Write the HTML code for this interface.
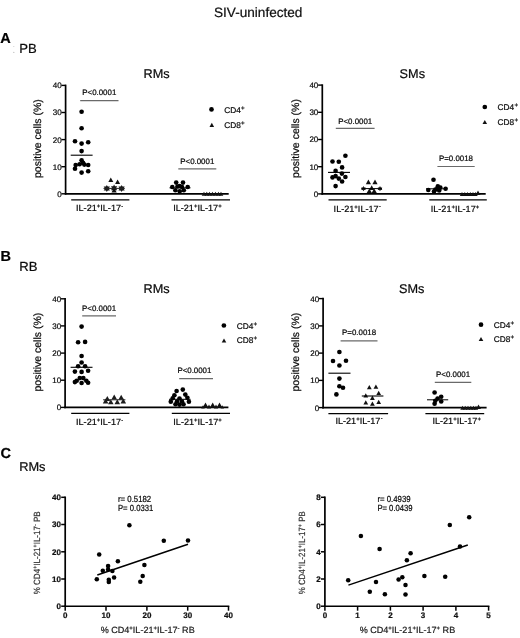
<!DOCTYPE html><html><head><meta charset="utf-8"><style>html,body{margin:0;padding:0;background:#fff}svg{display:block;will-change:transform;opacity:0.999}</style></head><body>
<svg width="520" height="638" viewBox="0 0 520 638" text-rendering="geometricPrecision">
<rect width="520" height="638" fill="#fff"/>
<text x="214.0" y="16.8" font-size="13.6" text-anchor="start" font-weight="normal" fill="#111" stroke="#111" stroke-width="0.22" font-family="Liberation Sans, sans-serif" >SIV-uninfected</text>
<text x="0.2" y="42.9" font-size="14.5" text-anchor="start" font-weight="bold" fill="#000" stroke="#000" stroke-width="0.22" font-family="Liberation Sans, sans-serif" >A</text>
<text x="19.2" y="53.1" font-size="13.1" text-anchor="start" font-weight="normal" fill="#0a0a0a" stroke="#0a0a0a" stroke-width="0.22" font-family="Liberation Sans, sans-serif" >PB</text>
<text x="0.4" y="260.7" font-size="14.5" text-anchor="start" font-weight="bold" fill="#000" stroke="#000" stroke-width="0.22" font-family="Liberation Sans, sans-serif" >B</text>
<text x="19.2" y="271.4" font-size="13.1" text-anchor="start" font-weight="normal" fill="#0a0a0a" stroke="#0a0a0a" stroke-width="0.22" font-family="Liberation Sans, sans-serif" >RB</text>
<text x="0.4" y="458.0" font-size="14.5" text-anchor="start" font-weight="bold" fill="#000" stroke="#000" stroke-width="0.22" font-family="Liberation Sans, sans-serif" >C</text>
<circle cx="13.8" cy="46.5" r="0.6" fill="#ccc"/><circle cx="13.8" cy="52.4" r="0.7" fill="#c4c4c4"/>
<line x1="65.6" y1="84.6" x2="65.6" y2="194.6" stroke="#000" stroke-width="1.7" />
<line x1="64.8" y1="193.8" x2="228.7" y2="193.8" stroke="#000" stroke-width="1.7" />
<line x1="61.4" y1="193.8" x2="65.6" y2="193.8" stroke="#000" stroke-width="1.4" />
<text x="61.6" y="196.7" font-size="8" text-anchor="end" font-weight="normal" fill="#0a0a0a" stroke="#0a0a0a" stroke-width="0.22" font-family="Liberation Sans, sans-serif" >0</text>
<line x1="61.4" y1="166.7" x2="65.6" y2="166.7" stroke="#000" stroke-width="1.4" />
<text x="61.6" y="169.6" font-size="8" text-anchor="end" font-weight="normal" fill="#0a0a0a" stroke="#0a0a0a" stroke-width="0.22" font-family="Liberation Sans, sans-serif" >10</text>
<line x1="61.4" y1="139.6" x2="65.6" y2="139.6" stroke="#000" stroke-width="1.4" />
<text x="61.6" y="142.5" font-size="8" text-anchor="end" font-weight="normal" fill="#0a0a0a" stroke="#0a0a0a" stroke-width="0.22" font-family="Liberation Sans, sans-serif" >20</text>
<line x1="61.4" y1="112.5" x2="65.6" y2="112.5" stroke="#000" stroke-width="1.4" />
<text x="61.6" y="115.4" font-size="8" text-anchor="end" font-weight="normal" fill="#0a0a0a" stroke="#0a0a0a" stroke-width="0.22" font-family="Liberation Sans, sans-serif" >30</text>
<line x1="61.4" y1="85.4" x2="65.6" y2="85.4" stroke="#000" stroke-width="1.4" />
<text x="61.6" y="88.3" font-size="8" text-anchor="end" font-weight="normal" fill="#0a0a0a" stroke="#0a0a0a" stroke-width="0.22" font-family="Liberation Sans, sans-serif" >40</text>
<text transform="translate(41.2,138.6) rotate(-90)" font-size="10.5" text-anchor="middle" fill="#0a0a0a" stroke="#0a0a0a" stroke-width="0.22" font-family="Liberation Sans, sans-serif">positive cells (%)</text>
<line x1="71.2" y1="199.9" x2="129.4" y2="199.9" stroke="#000" stroke-width="1.2" />
<line x1="171.5" y1="199.9" x2="230.0" y2="199.9" stroke="#000" stroke-width="1.2" />
<text x="99.6" y="211.4" font-size="9.1" text-anchor="middle" font-weight="normal" fill="#0a0a0a" stroke="#0a0a0a" stroke-width="0.22" font-family="Liberation Sans, sans-serif" >IL-21<tspan dy="-3" dx="0" font-size="6">+</tspan><tspan dy="3">&#8203;</tspan>IL-17<tspan dy="-3.3" dx="0.3" font-size="5.6">-</tspan><tspan dy="3.3">&#8203;</tspan></text>
<text x="197.4" y="211.4" font-size="9.1" text-anchor="middle" font-weight="normal" fill="#0a0a0a" stroke="#0a0a0a" stroke-width="0.22" font-family="Liberation Sans, sans-serif" >IL-21<tspan dy="-3" dx="0" font-size="6">+</tspan><tspan dy="3">&#8203;</tspan>IL-17<tspan dy="-3" dx="0" font-size="6">+</tspan><tspan dy="3">&#8203;</tspan></text>
<text x="143.6" y="77.7" font-size="12.7" text-anchor="start" font-weight="normal" fill="#0a0a0a" stroke="#0a0a0a" stroke-width="0.22" font-family="Liberation Sans, sans-serif" >RMs</text>
<line x1="80.2" y1="100.6" x2="118.5" y2="100.6" stroke="#6a6a6a" stroke-width="1.2" />
<text x="99.3" y="95.1" font-size="7.9" text-anchor="middle" font-weight="normal" fill="#0a0a0a" stroke="#0a0a0a" stroke-width="0.22" font-family="Liberation Sans, sans-serif" >P&lt;0.0001</text>
<line x1="178.3" y1="168.8" x2="216.3" y2="168.8" stroke="#6a6a6a" stroke-width="1.2" />
<text x="197.3" y="163.7" font-size="7.9" text-anchor="middle" font-weight="normal" fill="#0a0a0a" stroke="#0a0a0a" stroke-width="0.22" font-family="Liberation Sans, sans-serif" >P&lt;0.0001</text>
<circle cx="81.6" cy="111.8" r="2.32" fill="#000"/>
<circle cx="81.6" cy="128.2" r="2.32" fill="#000"/>
<circle cx="75.0" cy="141.2" r="2.32" fill="#000"/>
<circle cx="88.2" cy="142.3" r="2.32" fill="#000"/>
<circle cx="81.6" cy="143.6" r="2.32" fill="#000"/>
<circle cx="81.6" cy="151.1" r="2.32" fill="#000"/>
<circle cx="81.6" cy="160.3" r="2.32" fill="#000"/>
<circle cx="83.0" cy="162.7" r="2.32" fill="#000"/>
<circle cx="75.7" cy="165.0" r="2.32" fill="#000"/>
<circle cx="79.6" cy="164.3" r="2.32" fill="#000"/>
<circle cx="84.3" cy="164.6" r="2.32" fill="#000"/>
<circle cx="88.2" cy="165.0" r="2.32" fill="#000"/>
<circle cx="75.0" cy="168.7" r="2.32" fill="#000"/>
<circle cx="88.2" cy="171.3" r="2.32" fill="#000"/>
<circle cx="81.6" cy="172.6" r="2.32" fill="#000"/>
<line x1="70.7" y1="155.2" x2="92.6" y2="155.2" stroke="#000" stroke-width="1.1" />
<path d="M110.8 177.5 L113.3 182.0 L108.3 182.0 Z" fill="#111"/>
<path d="M117.6 179.5 L120.1 184.0 L115.1 184.0 Z" fill="#111"/>
<path d="M106.8 184.9 L109.9 190.5 L103.7 190.5 Z" fill="#1c1c1c"/>
<path d="M106.8 192.0 L109.9 186.6 L103.7 186.6 Z" fill="#1c1c1c"/>
<path d="M114.1 184.6 L117.2 190.2 L111.0 190.2 Z" fill="#1c1c1c"/>
<path d="M114.1 191.7 L117.2 186.3 L111.0 186.3 Z" fill="#1c1c1c"/>
<path d="M121.6 184.9 L124.7 190.5 L118.5 190.5 Z" fill="#1c1c1c"/>
<path d="M121.6 192.0 L124.7 186.6 L118.5 186.6 Z" fill="#1c1c1c"/>
<path d="M114.1 187.8 L116.7 192.5 L111.5 192.5 Z" fill="#111"/>
<line x1="103.5" y1="188.4" x2="124.8" y2="188.4" stroke="#222" stroke-width="1.0" />
<circle cx="176.2" cy="182.6" r="2.32" fill="#000"/>
<circle cx="183.0" cy="182.6" r="2.32" fill="#000"/>
<circle cx="172.3" cy="187.0" r="2.32" fill="#000"/>
<circle cx="187.7" cy="187.0" r="2.32" fill="#000"/>
<circle cx="179.7" cy="186.0" r="2.32" fill="#000"/>
<circle cx="175.4" cy="190.3" r="2.32" fill="#000"/>
<circle cx="183.8" cy="190.3" r="2.32" fill="#000"/>
<circle cx="179.7" cy="191.2" r="2.32" fill="#000"/>
<circle cx="177.5" cy="186.5" r="2.32" fill="#000"/>
<circle cx="182.0" cy="187.0" r="2.32" fill="#000"/>
<line x1="169.5" y1="187.8" x2="190.5" y2="187.8" stroke="#000" stroke-width="1.0" />
<path d="M204.0 191.7 L206.3 195.8 L201.7 195.8 Z" fill="#111"/>
<path d="M206.8 191.7 L209.1 195.8 L204.5 195.8 Z" fill="#111"/>
<path d="M209.5 191.7 L211.8 195.8 L207.2 195.8 Z" fill="#111"/>
<path d="M212.5 191.7 L214.8 195.8 L210.2 195.8 Z" fill="#111"/>
<path d="M215.5 191.7 L217.8 195.8 L213.2 195.8 Z" fill="#111"/>
<path d="M218.5 191.7 L220.8 195.8 L216.2 195.8 Z" fill="#111"/>
<path d="M221.0 191.7 L223.3 195.8 L218.7 195.8 Z" fill="#111"/>
<line x1="322.3" y1="84.3" x2="322.3" y2="194.7" stroke="#000" stroke-width="1.7" />
<line x1="321.5" y1="193.9" x2="485.7" y2="193.9" stroke="#000" stroke-width="1.7" />
<line x1="318.1" y1="193.9" x2="322.3" y2="193.9" stroke="#000" stroke-width="1.4" />
<text x="318.3" y="196.8" font-size="8" text-anchor="end" font-weight="normal" fill="#0a0a0a" stroke="#0a0a0a" stroke-width="0.22" font-family="Liberation Sans, sans-serif" >0</text>
<line x1="318.1" y1="166.7" x2="322.3" y2="166.7" stroke="#000" stroke-width="1.4" />
<text x="318.3" y="169.6" font-size="8" text-anchor="end" font-weight="normal" fill="#0a0a0a" stroke="#0a0a0a" stroke-width="0.22" font-family="Liberation Sans, sans-serif" >10</text>
<line x1="318.1" y1="139.5" x2="322.3" y2="139.5" stroke="#000" stroke-width="1.4" />
<text x="318.3" y="142.4" font-size="8" text-anchor="end" font-weight="normal" fill="#0a0a0a" stroke="#0a0a0a" stroke-width="0.22" font-family="Liberation Sans, sans-serif" >20</text>
<line x1="318.1" y1="112.3" x2="322.3" y2="112.3" stroke="#000" stroke-width="1.4" />
<text x="318.3" y="115.2" font-size="8" text-anchor="end" font-weight="normal" fill="#0a0a0a" stroke="#0a0a0a" stroke-width="0.22" font-family="Liberation Sans, sans-serif" >30</text>
<line x1="318.1" y1="85.1" x2="322.3" y2="85.1" stroke="#000" stroke-width="1.4" />
<text x="318.3" y="88.0" font-size="8" text-anchor="end" font-weight="normal" fill="#0a0a0a" stroke="#0a0a0a" stroke-width="0.22" font-family="Liberation Sans, sans-serif" >40</text>
<text transform="translate(298.5,138.5) rotate(-90)" font-size="10.5" text-anchor="middle" fill="#0a0a0a" stroke="#0a0a0a" stroke-width="0.22" font-family="Liberation Sans, sans-serif">positive cells (%)</text>
<line x1="328.5" y1="199.9" x2="386.7" y2="199.9" stroke="#000" stroke-width="1.2" />
<line x1="429.3" y1="199.9" x2="486.8" y2="199.9" stroke="#000" stroke-width="1.2" />
<text x="357.2" y="211.7" font-size="9.1" text-anchor="middle" font-weight="normal" fill="#0a0a0a" stroke="#0a0a0a" stroke-width="0.22" font-family="Liberation Sans, sans-serif" >IL-21<tspan dy="-3" dx="0" font-size="6">+</tspan><tspan dy="3">&#8203;</tspan>IL-17<tspan dy="-3.3" dx="0.3" font-size="5.6">-</tspan><tspan dy="3.3">&#8203;</tspan></text>
<text x="455.0" y="211.7" font-size="9.1" text-anchor="middle" font-weight="normal" fill="#0a0a0a" stroke="#0a0a0a" stroke-width="0.22" font-family="Liberation Sans, sans-serif" >IL-21<tspan dy="-3" dx="0" font-size="6">+</tspan><tspan dy="3">&#8203;</tspan>IL-17<tspan dy="-3" dx="0" font-size="6">+</tspan><tspan dy="3">&#8203;</tspan></text>
<text x="399.6" y="77.7" font-size="12.7" text-anchor="start" font-weight="normal" fill="#0a0a0a" stroke="#0a0a0a" stroke-width="0.22" font-family="Liberation Sans, sans-serif" >SMs</text>
<line x1="335.8" y1="128.3" x2="374.6" y2="128.3" stroke="#6a6a6a" stroke-width="1.2" />
<text x="355.2" y="123.7" font-size="7.9" text-anchor="middle" font-weight="normal" fill="#0a0a0a" stroke="#0a0a0a" stroke-width="0.22" font-family="Liberation Sans, sans-serif" >P&lt;0.0001</text>
<line x1="437.4" y1="166.5" x2="474.7" y2="166.5" stroke="#6a6a6a" stroke-width="1.2" />
<text x="456.0" y="161.0" font-size="7.9" text-anchor="middle" font-weight="normal" fill="#0a0a0a" stroke="#0a0a0a" stroke-width="0.22" font-family="Liberation Sans, sans-serif" >P=0.0018</text>
<circle cx="345.4" cy="155.8" r="2.32" fill="#000"/>
<circle cx="332.5" cy="161.5" r="2.32" fill="#000"/>
<circle cx="338.8" cy="161.8" r="2.32" fill="#000"/>
<circle cx="342.1" cy="167.4" r="2.32" fill="#000"/>
<circle cx="335.6" cy="170.9" r="2.32" fill="#000"/>
<circle cx="341.9" cy="173.6" r="2.32" fill="#000"/>
<circle cx="335.6" cy="176.1" r="2.32" fill="#000"/>
<circle cx="332.5" cy="177.4" r="2.32" fill="#000"/>
<circle cx="345.4" cy="177.0" r="2.32" fill="#000"/>
<circle cx="338.8" cy="178.6" r="2.32" fill="#000"/>
<circle cx="342.1" cy="181.5" r="2.32" fill="#000"/>
<circle cx="335.6" cy="186.1" r="2.32" fill="#000"/>
<line x1="328.0" y1="172.4" x2="350.0" y2="172.4" stroke="#000" stroke-width="1.1" />
<path d="M368.4 179.5 L371.0 184.2 L365.8 184.2 Z" fill="#111"/>
<path d="M375.0 179.5 L377.6 184.2 L372.4 184.2 Z" fill="#111"/>
<path d="M371.7 185.2 L374.3 189.9 L369.1 189.9 Z" fill="#111"/>
<path d="M369.3 188.4 L371.9 193.1 L366.7 193.1 Z" fill="#111"/>
<path d="M374.2 188.4 L376.8 193.1 L371.6 193.1 Z" fill="#111"/>
<path d="M363.5 186.0 L365.8 190.1 L361.2 190.1 Z" fill="#1c1c1c"/>
<path d="M363.5 191.3 L365.8 187.4 L361.2 187.4 Z" fill="#1c1c1c"/>
<path d="M380.0 186.0 L382.3 190.1 L377.7 190.1 Z" fill="#1c1c1c"/>
<path d="M380.0 191.3 L382.3 187.4 L377.7 187.4 Z" fill="#1c1c1c"/>
<line x1="361.3" y1="188.6" x2="382.0" y2="188.6" stroke="#000" stroke-width="1.0" />
<circle cx="433.5" cy="179.8" r="2.32" fill="#000"/>
<circle cx="437.8" cy="186.4" r="2.32" fill="#000"/>
<circle cx="445.6" cy="188.8" r="2.32" fill="#000"/>
<circle cx="428.3" cy="190.0" r="2.32" fill="#000"/>
<circle cx="435.4" cy="189.6" r="2.32" fill="#000"/>
<circle cx="439.2" cy="190.5" r="2.32" fill="#000"/>
<circle cx="434.0" cy="191.6" r="2.32" fill="#000"/>
<circle cx="440.3" cy="187.6" r="2.32" fill="#000"/>
<circle cx="437.2" cy="189.0" r="2.32" fill="#000"/>
<line x1="426.0" y1="188.8" x2="447.0" y2="188.8" stroke="#000" stroke-width="1.0" />
<path d="M462.0 191.9 L464.2 195.9 L459.8 195.9 Z" fill="#111"/>
<path d="M464.8 191.9 L467.0 195.9 L462.6 195.9 Z" fill="#111"/>
<path d="M467.5 191.9 L469.7 195.9 L465.3 195.9 Z" fill="#111"/>
<path d="M470.3 191.9 L472.5 195.9 L468.1 195.9 Z" fill="#111"/>
<path d="M473.0 191.9 L475.2 195.9 L470.8 195.9 Z" fill="#111"/>
<path d="M475.5 191.9 L477.7 195.9 L473.3 195.9 Z" fill="#111"/>
<path d="M478.0 190.5 L480.5 195.0 L475.5 195.0 Z" fill="#111"/>
<line x1="65.1" y1="298.0" x2="65.1" y2="408.2" stroke="#000" stroke-width="1.7" />
<line x1="64.3" y1="407.4" x2="228.4" y2="407.4" stroke="#000" stroke-width="1.7" />
<line x1="60.9" y1="407.4" x2="65.1" y2="407.4" stroke="#000" stroke-width="1.4" />
<text x="61.1" y="410.3" font-size="8" text-anchor="end" font-weight="normal" fill="#0a0a0a" stroke="#0a0a0a" stroke-width="0.22" font-family="Liberation Sans, sans-serif" >0</text>
<line x1="60.9" y1="380.2" x2="65.1" y2="380.2" stroke="#000" stroke-width="1.4" />
<text x="61.1" y="383.1" font-size="8" text-anchor="end" font-weight="normal" fill="#0a0a0a" stroke="#0a0a0a" stroke-width="0.22" font-family="Liberation Sans, sans-serif" >10</text>
<line x1="60.9" y1="353.1" x2="65.1" y2="353.1" stroke="#000" stroke-width="1.4" />
<text x="61.1" y="356.0" font-size="8" text-anchor="end" font-weight="normal" fill="#0a0a0a" stroke="#0a0a0a" stroke-width="0.22" font-family="Liberation Sans, sans-serif" >20</text>
<line x1="60.9" y1="325.9" x2="65.1" y2="325.9" stroke="#000" stroke-width="1.4" />
<text x="61.1" y="328.8" font-size="8" text-anchor="end" font-weight="normal" fill="#0a0a0a" stroke="#0a0a0a" stroke-width="0.22" font-family="Liberation Sans, sans-serif" >30</text>
<line x1="60.9" y1="298.8" x2="65.1" y2="298.8" stroke="#000" stroke-width="1.4" />
<text x="61.1" y="301.7" font-size="8" text-anchor="end" font-weight="normal" fill="#0a0a0a" stroke="#0a0a0a" stroke-width="0.22" font-family="Liberation Sans, sans-serif" >40</text>
<text transform="translate(41.3,352.1) rotate(-90)" font-size="10.5" text-anchor="middle" fill="#0a0a0a" stroke="#0a0a0a" stroke-width="0.22" font-family="Liberation Sans, sans-serif">positive cells (%)</text>
<line x1="71.2" y1="413.4" x2="129.4" y2="413.4" stroke="#000" stroke-width="1.2" />
<line x1="171.8" y1="413.4" x2="230.0" y2="413.4" stroke="#000" stroke-width="1.2" />
<text x="99.6" y="425.0" font-size="9.1" text-anchor="middle" font-weight="normal" fill="#0a0a0a" stroke="#0a0a0a" stroke-width="0.22" font-family="Liberation Sans, sans-serif" >IL-21<tspan dy="-3" dx="0" font-size="6">+</tspan><tspan dy="3">&#8203;</tspan>IL-17<tspan dy="-3.3" dx="0.3" font-size="5.6">-</tspan><tspan dy="3.3">&#8203;</tspan></text>
<text x="197.6" y="425.0" font-size="9.1" text-anchor="middle" font-weight="normal" fill="#0a0a0a" stroke="#0a0a0a" stroke-width="0.22" font-family="Liberation Sans, sans-serif" >IL-21<tspan dy="-3" dx="0" font-size="6">+</tspan><tspan dy="3">&#8203;</tspan>IL-17<tspan dy="-3" dx="0" font-size="6">+</tspan><tspan dy="3">&#8203;</tspan></text>
<text x="143.6" y="293.2" font-size="12.7" text-anchor="start" font-weight="normal" fill="#0a0a0a" stroke="#0a0a0a" stroke-width="0.22" font-family="Liberation Sans, sans-serif" >RMs</text>
<line x1="82.2" y1="315.9" x2="116.0" y2="315.9" stroke="#6a6a6a" stroke-width="1.2" />
<text x="99.1" y="311.2" font-size="7.9" text-anchor="middle" font-weight="normal" fill="#0a0a0a" stroke="#0a0a0a" stroke-width="0.22" font-family="Liberation Sans, sans-serif" >P&lt;0.0001</text>
<line x1="179.2" y1="378.6" x2="213.0" y2="378.6" stroke="#6a6a6a" stroke-width="1.2" />
<text x="194.4" y="372.8" font-size="7.9" text-anchor="middle" font-weight="normal" fill="#0a0a0a" stroke="#0a0a0a" stroke-width="0.22" font-family="Liberation Sans, sans-serif" >P&lt;0.0001</text>
<circle cx="81.6" cy="326.6" r="2.32" fill="#000"/>
<circle cx="78.1" cy="342.2" r="2.32" fill="#000"/>
<circle cx="85.1" cy="341.9" r="2.32" fill="#000"/>
<circle cx="81.6" cy="356.0" r="2.32" fill="#000"/>
<circle cx="81.6" cy="362.5" r="2.32" fill="#000"/>
<circle cx="78.1" cy="366.3" r="2.32" fill="#000"/>
<circle cx="85.1" cy="366.3" r="2.32" fill="#000"/>
<circle cx="88.1" cy="370.7" r="2.32" fill="#000"/>
<circle cx="74.9" cy="371.6" r="2.32" fill="#000"/>
<circle cx="81.6" cy="371.9" r="2.32" fill="#000"/>
<circle cx="79.8" cy="378.1" r="2.32" fill="#000"/>
<circle cx="83.3" cy="378.1" r="2.32" fill="#000"/>
<circle cx="76.7" cy="380.7" r="2.32" fill="#000"/>
<circle cx="86.3" cy="380.7" r="2.32" fill="#000"/>
<circle cx="74.9" cy="382.1" r="2.32" fill="#000"/>
<circle cx="81.6" cy="383.0" r="2.32" fill="#000"/>
<circle cx="88.1" cy="382.8" r="2.32" fill="#000"/>
<line x1="70.6" y1="367.3" x2="92.5" y2="367.3" stroke="#000" stroke-width="1.1" />
<path d="M107.3 396.1 L110.1 401.1 L104.5 401.1 Z" fill="#1c1c1c"/>
<path d="M114.2 394.4 L117.0 399.4 L111.4 399.4 Z" fill="#1c1c1c"/>
<path d="M121.2 394.7 L124.0 399.7 L118.4 399.7 Z" fill="#1c1c1c"/>
<path d="M110.8 399.2 L113.6 404.2 L108.0 404.2 Z" fill="#1c1c1c"/>
<path d="M117.3 399.2 L120.1 404.2 L114.5 404.2 Z" fill="#1c1c1c"/>
<path d="M105.6 398.4 L108.4 403.4 L102.8 403.4 Z" fill="#1c1c1c"/>
<path d="M123.3 398.4 L126.1 403.4 L120.5 403.4 Z" fill="#1c1c1c"/>
<line x1="103.1" y1="399.8" x2="125.4" y2="399.8" stroke="#222" stroke-width="1.0" />
<circle cx="176.6" cy="391.0" r="2.32" fill="#000"/>
<circle cx="182.8" cy="389.6" r="2.32" fill="#000"/>
<circle cx="174.4" cy="395.2" r="2.32" fill="#000"/>
<circle cx="185.3" cy="394.6" r="2.32" fill="#000"/>
<circle cx="172.7" cy="398.2" r="2.32" fill="#000"/>
<circle cx="187.4" cy="397.8" r="2.32" fill="#000"/>
<circle cx="170.8" cy="401.8" r="2.32" fill="#000"/>
<circle cx="188.9" cy="401.8" r="2.32" fill="#000"/>
<circle cx="179.5" cy="398.5" r="2.32" fill="#000"/>
<circle cx="177.0" cy="401.5" r="2.32" fill="#000"/>
<circle cx="182.0" cy="401.5" r="2.32" fill="#000"/>
<circle cx="175.5" cy="404.3" r="2.32" fill="#000"/>
<circle cx="179.5" cy="404.6" r="2.32" fill="#000"/>
<circle cx="183.5" cy="404.3" r="2.32" fill="#000"/>
<line x1="169.0" y1="399.3" x2="190.6" y2="399.3" stroke="#000" stroke-width="1.0" />
<path d="M205.5 402.5 L208.4 407.7 L202.6 407.7 Z" fill="#111"/>
<path d="M212.7 402.5 L215.6 407.7 L209.8 407.7 Z" fill="#111"/>
<path d="M219.5 402.5 L222.4 407.7 L216.6 407.7 Z" fill="#111"/>
<path d="M209.0 404.4 L211.2 408.4 L206.8 408.4 Z" fill="#111"/>
<path d="M216.0 404.4 L218.2 408.4 L213.8 408.4 Z" fill="#111"/>
<path d="M203.0 405.2 L204.8 408.4 L201.2 408.4 Z" fill="#111"/>
<path d="M222.3 405.2 L224.1 408.4 L220.5 408.4 Z" fill="#111"/>
<line x1="323.1" y1="297.8" x2="323.1" y2="408.4" stroke="#000" stroke-width="1.7" />
<line x1="322.3" y1="407.6" x2="486.6" y2="407.6" stroke="#000" stroke-width="1.7" />
<line x1="318.9" y1="407.6" x2="323.1" y2="407.6" stroke="#000" stroke-width="1.4" />
<text x="319.1" y="410.5" font-size="8" text-anchor="end" font-weight="normal" fill="#0a0a0a" stroke="#0a0a0a" stroke-width="0.22" font-family="Liberation Sans, sans-serif" >0</text>
<line x1="318.9" y1="380.4" x2="323.1" y2="380.4" stroke="#000" stroke-width="1.4" />
<text x="319.1" y="383.2" font-size="8" text-anchor="end" font-weight="normal" fill="#0a0a0a" stroke="#0a0a0a" stroke-width="0.22" font-family="Liberation Sans, sans-serif" >10</text>
<line x1="318.9" y1="353.1" x2="323.1" y2="353.1" stroke="#000" stroke-width="1.4" />
<text x="319.1" y="356.0" font-size="8" text-anchor="end" font-weight="normal" fill="#0a0a0a" stroke="#0a0a0a" stroke-width="0.22" font-family="Liberation Sans, sans-serif" >20</text>
<line x1="318.9" y1="325.9" x2="323.1" y2="325.9" stroke="#000" stroke-width="1.4" />
<text x="319.1" y="328.8" font-size="8" text-anchor="end" font-weight="normal" fill="#0a0a0a" stroke="#0a0a0a" stroke-width="0.22" font-family="Liberation Sans, sans-serif" >30</text>
<line x1="318.9" y1="298.6" x2="323.1" y2="298.6" stroke="#000" stroke-width="1.4" />
<text x="319.1" y="301.5" font-size="8" text-anchor="end" font-weight="normal" fill="#0a0a0a" stroke="#0a0a0a" stroke-width="0.22" font-family="Liberation Sans, sans-serif" >40</text>
<text transform="translate(298.5,352.1) rotate(-90)" font-size="10.5" text-anchor="middle" fill="#0a0a0a" stroke="#0a0a0a" stroke-width="0.22" font-family="Liberation Sans, sans-serif">positive cells (%)</text>
<line x1="328.4" y1="413.6" x2="388.1" y2="413.6" stroke="#000" stroke-width="1.2" />
<line x1="425.4" y1="413.6" x2="484.2" y2="413.6" stroke="#000" stroke-width="1.2" />
<text x="359.0" y="423.6" font-size="9.1" text-anchor="middle" font-weight="normal" fill="#0a0a0a" stroke="#0a0a0a" stroke-width="0.22" font-family="Liberation Sans, sans-serif" >IL-21<tspan dy="-3" dx="0" font-size="6">+</tspan><tspan dy="3">&#8203;</tspan>IL-17<tspan dy="-3.3" dx="0.3" font-size="5.6">-</tspan><tspan dy="3.3">&#8203;</tspan></text>
<text x="456.7" y="423.6" font-size="9.1" text-anchor="middle" font-weight="normal" fill="#0a0a0a" stroke="#0a0a0a" stroke-width="0.22" font-family="Liberation Sans, sans-serif" >IL-21<tspan dy="-3" dx="0" font-size="6">+</tspan><tspan dy="3">&#8203;</tspan>IL-17<tspan dy="-3" dx="0" font-size="6">+</tspan><tspan dy="3">&#8203;</tspan></text>
<text x="399.0" y="293.2" font-size="12.7" text-anchor="start" font-weight="normal" fill="#0a0a0a" stroke="#0a0a0a" stroke-width="0.22" font-family="Liberation Sans, sans-serif" >SMs</text>
<line x1="340.6" y1="340.8" x2="377.5" y2="340.8" stroke="#6a6a6a" stroke-width="1.2" />
<text x="359.1" y="335.1" font-size="7.9" text-anchor="middle" font-weight="normal" fill="#0a0a0a" stroke="#0a0a0a" stroke-width="0.22" font-family="Liberation Sans, sans-serif" >P=0.0018</text>
<line x1="434.8" y1="382.4" x2="471.3" y2="382.4" stroke="#6a6a6a" stroke-width="1.2" />
<text x="453.1" y="376.8" font-size="7.9" text-anchor="middle" font-weight="normal" fill="#0a0a0a" stroke="#0a0a0a" stroke-width="0.22" font-family="Liberation Sans, sans-serif" >P&lt;0.0001</text>
<circle cx="339.4" cy="352.0" r="2.32" fill="#000"/>
<circle cx="333.0" cy="361.0" r="2.32" fill="#000"/>
<circle cx="346.0" cy="360.8" r="2.32" fill="#000"/>
<circle cx="339.4" cy="365.5" r="2.32" fill="#000"/>
<circle cx="339.4" cy="378.6" r="2.32" fill="#000"/>
<circle cx="339.4" cy="386.2" r="2.32" fill="#000"/>
<circle cx="343.0" cy="387.8" r="2.32" fill="#000"/>
<circle cx="336.4" cy="394.4" r="2.32" fill="#000"/>
<line x1="328.4" y1="373.2" x2="350.5" y2="373.2" stroke="#000" stroke-width="1.1" />
<path d="M369.3 385.0 L371.7 389.3 L366.9 389.3 Z" fill="#111"/>
<path d="M375.9 384.5 L378.3 388.8 L373.5 388.8 Z" fill="#111"/>
<path d="M378.7 390.8 L381.1 395.1 L376.3 395.1 Z" fill="#111"/>
<path d="M365.8 393.2 L368.2 397.5 L363.4 397.5 Z" fill="#111"/>
<path d="M372.4 395.6 L374.8 399.9 L370.0 399.9 Z" fill="#111"/>
<path d="M365.8 400.2 L368.2 404.5 L363.4 404.5 Z" fill="#111"/>
<path d="M372.4 401.4 L374.8 405.7 L370.0 405.7 Z" fill="#111"/>
<path d="M378.7 399.8 L381.1 404.1 L376.3 404.1 Z" fill="#111"/>
<line x1="361.8" y1="396.0" x2="383.4" y2="396.0" stroke="#000" stroke-width="1.1" />
<circle cx="434.6" cy="392.5" r="2.32" fill="#000"/>
<circle cx="441.2" cy="396.8" r="2.32" fill="#000"/>
<circle cx="437.6" cy="398.6" r="2.32" fill="#000"/>
<circle cx="435.3" cy="400.8" r="2.32" fill="#000"/>
<circle cx="441.2" cy="401.5" r="2.32" fill="#000"/>
<circle cx="434.6" cy="403.8" r="2.32" fill="#000"/>
<line x1="427.0" y1="399.8" x2="448.2" y2="399.8" stroke="#000" stroke-width="1.0" />
<path d="M462.5 405.7 L464.7 409.7 L460.3 409.7 Z" fill="#111"/>
<path d="M465.2 405.7 L467.4 409.7 L463.0 409.7 Z" fill="#111"/>
<path d="M468.0 405.7 L470.2 409.7 L465.8 409.7 Z" fill="#111"/>
<path d="M470.8 405.7 L473.0 409.7 L468.6 409.7 Z" fill="#111"/>
<path d="M473.5 405.7 L475.7 409.7 L471.3 409.7 Z" fill="#111"/>
<path d="M476.0 405.7 L478.2 409.7 L473.8 409.7 Z" fill="#111"/>
<path d="M478.5 404.4 L481.0 408.9 L476.0 408.9 Z" fill="#111"/>
<circle cx="211.5" cy="109.4" r="2.35" fill="#000"/>
<path d="M211.8 122.8 L214.1 126.9 L209.5 126.9 Z" fill="#111"/>
<text x="224.2" y="112.9" font-size="8.3" text-anchor="start" font-weight="normal" fill="#0a0a0a" stroke="#0a0a0a" stroke-width="0.22" font-family="Liberation Sans, sans-serif" >CD4<tspan dy="-3.1" dx="0.3" font-size="6.2">+</tspan><tspan dy="3.1">&#8203;</tspan></text>
<text x="224.2" y="128.4" font-size="8.3" text-anchor="start" font-weight="normal" fill="#0a0a0a" stroke="#0a0a0a" stroke-width="0.22" font-family="Liberation Sans, sans-serif" >CD8<tspan dy="-3.1" dx="0.3" font-size="6.2">+</tspan><tspan dy="3.1">&#8203;</tspan></text>
<circle cx="484.8" cy="107.0" r="2.35" fill="#000"/>
<path d="M484.8 120.0 L487.1 124.1 L482.5 124.1 Z" fill="#111"/>
<text x="497.5" y="110.4" font-size="8.3" text-anchor="start" font-weight="normal" fill="#0a0a0a" stroke="#0a0a0a" stroke-width="0.22" font-family="Liberation Sans, sans-serif" >CD4<tspan dy="-3.1" dx="0.3" font-size="6.2">+</tspan><tspan dy="3.1">&#8203;</tspan></text>
<text x="497.5" y="125.2" font-size="8.3" text-anchor="start" font-weight="normal" fill="#0a0a0a" stroke="#0a0a0a" stroke-width="0.22" font-family="Liberation Sans, sans-serif" >CD8<tspan dy="-3.1" dx="0.3" font-size="6.2">+</tspan><tspan dy="3.1">&#8203;</tspan></text>
<circle cx="223.9" cy="325.5" r="2.35" fill="#000"/>
<path d="M224.0 338.4 L226.3 342.5 L221.7 342.5 Z" fill="#111"/>
<text x="236.7" y="328.8" font-size="8.3" text-anchor="start" font-weight="normal" fill="#0a0a0a" stroke="#0a0a0a" stroke-width="0.22" font-family="Liberation Sans, sans-serif" >CD4<tspan dy="-3.1" dx="0.3" font-size="6.2">+</tspan><tspan dy="3.1">&#8203;</tspan></text>
<text x="236.7" y="343.2" font-size="8.3" text-anchor="start" font-weight="normal" fill="#0a0a0a" stroke="#0a0a0a" stroke-width="0.22" font-family="Liberation Sans, sans-serif" >CD8<tspan dy="-3.1" dx="0.3" font-size="6.2">+</tspan><tspan dy="3.1">&#8203;</tspan></text>
<circle cx="481.0" cy="324.7" r="2.35" fill="#000"/>
<path d="M481.0 336.9 L483.3 341.0 L478.7 341.0 Z" fill="#111"/>
<text x="493.7" y="328.0" font-size="8.3" text-anchor="start" font-weight="normal" fill="#0a0a0a" stroke="#0a0a0a" stroke-width="0.22" font-family="Liberation Sans, sans-serif" >CD4<tspan dy="-3.1" dx="0.3" font-size="6.2">+</tspan><tspan dy="3.1">&#8203;</tspan></text>
<text x="493.7" y="342.4" font-size="8.3" text-anchor="start" font-weight="normal" fill="#0a0a0a" stroke="#0a0a0a" stroke-width="0.22" font-family="Liberation Sans, sans-serif" >CD8<tspan dy="-3.1" dx="0.3" font-size="6.2">+</tspan><tspan dy="3.1">&#8203;</tspan></text>
<text x="19.2" y="471.2" font-size="12.8" text-anchor="start" font-weight="normal" fill="#0a0a0a" stroke="#0a0a0a" stroke-width="0.22" font-family="Liberation Sans, sans-serif" >RMs</text>
<line x1="65.2" y1="496.5" x2="65.2" y2="607.0" stroke="#000" stroke-width="1.7" />
<line x1="64.4" y1="606.2" x2="229.3" y2="606.2" stroke="#000" stroke-width="1.6" />
<line x1="61.2" y1="606.2" x2="65.2" y2="606.2" stroke="#000" stroke-width="1.5" />
<text x="61.0" y="609.1" font-size="8" text-anchor="end" font-weight="bold" fill="#111" stroke="#111" stroke-width="0.22" font-family="Liberation Sans, sans-serif" >0</text>
<line x1="61.2" y1="579.0" x2="65.2" y2="579.0" stroke="#000" stroke-width="1.5" />
<text x="61.0" y="581.9" font-size="8" text-anchor="end" font-weight="bold" fill="#111" stroke="#111" stroke-width="0.22" font-family="Liberation Sans, sans-serif" >10</text>
<line x1="61.2" y1="551.8" x2="65.2" y2="551.8" stroke="#000" stroke-width="1.5" />
<text x="61.0" y="554.6" font-size="8" text-anchor="end" font-weight="bold" fill="#111" stroke="#111" stroke-width="0.22" font-family="Liberation Sans, sans-serif" >20</text>
<line x1="61.2" y1="524.5" x2="65.2" y2="524.5" stroke="#000" stroke-width="1.5" />
<text x="61.0" y="527.4" font-size="8" text-anchor="end" font-weight="bold" fill="#111" stroke="#111" stroke-width="0.22" font-family="Liberation Sans, sans-serif" >30</text>
<line x1="61.2" y1="497.3" x2="65.2" y2="497.3" stroke="#000" stroke-width="1.5" />
<text x="61.0" y="500.2" font-size="8" text-anchor="end" font-weight="bold" fill="#111" stroke="#111" stroke-width="0.22" font-family="Liberation Sans, sans-serif" >40</text>
<line x1="65.2" y1="606.2" x2="65.2" y2="610.7" stroke="#000" stroke-width="1.5" />
<text x="65.2" y="618.2" font-size="8" text-anchor="middle" font-weight="bold" fill="#111" stroke="#111" stroke-width="0.22" font-family="Liberation Sans, sans-serif" >0</text>
<line x1="106.0" y1="606.2" x2="106.0" y2="610.7" stroke="#000" stroke-width="1.5" />
<text x="106.0" y="618.2" font-size="8" text-anchor="middle" font-weight="bold" fill="#111" stroke="#111" stroke-width="0.22" font-family="Liberation Sans, sans-serif" >10</text>
<line x1="146.9" y1="606.2" x2="146.9" y2="610.7" stroke="#000" stroke-width="1.5" />
<text x="146.9" y="618.2" font-size="8" text-anchor="middle" font-weight="bold" fill="#111" stroke="#111" stroke-width="0.22" font-family="Liberation Sans, sans-serif" >20</text>
<line x1="187.7" y1="606.2" x2="187.7" y2="610.7" stroke="#000" stroke-width="1.5" />
<text x="187.7" y="618.2" font-size="8" text-anchor="middle" font-weight="bold" fill="#111" stroke="#111" stroke-width="0.22" font-family="Liberation Sans, sans-serif" >30</text>
<line x1="228.5" y1="606.2" x2="228.5" y2="610.7" stroke="#000" stroke-width="1.5" />
<text x="228.5" y="618.2" font-size="8" text-anchor="middle" font-weight="bold" fill="#111" stroke="#111" stroke-width="0.22" font-family="Liberation Sans, sans-serif" >40</text>
<circle cx="129.4" cy="525.3" r="2.27" fill="#000"/>
<circle cx="163.8" cy="540.8" r="2.27" fill="#000"/>
<circle cx="188.0" cy="540.4" r="2.27" fill="#000"/>
<circle cx="99.2" cy="554.6" r="2.27" fill="#000"/>
<circle cx="117.9" cy="561.3" r="2.27" fill="#000"/>
<circle cx="108.1" cy="566.1" r="2.27" fill="#000"/>
<circle cx="102.8" cy="570.7" r="2.27" fill="#000"/>
<circle cx="108.1" cy="569.5" r="2.27" fill="#000"/>
<circle cx="112.4" cy="570.9" r="2.27" fill="#000"/>
<circle cx="144.4" cy="565.0" r="2.27" fill="#000"/>
<circle cx="96.8" cy="579.3" r="2.27" fill="#000"/>
<circle cx="114.1" cy="577.4" r="2.27" fill="#000"/>
<circle cx="108.8" cy="579.8" r="2.27" fill="#000"/>
<circle cx="108.8" cy="581.9" r="2.27" fill="#000"/>
<circle cx="142.7" cy="576.0" r="2.27" fill="#000"/>
<circle cx="140.3" cy="581.7" r="2.27" fill="#000"/>
<line x1="97.3" y1="575.0" x2="188.0" y2="544.2" stroke="#000" stroke-width="1.5" />
<text x="118.0" y="501.6" font-size="8.8" text-anchor="start" font-weight="normal" fill="#0a0a0a" stroke="#0a0a0a" stroke-width="0.22" font-family="Liberation Sans, sans-serif" textLength="33.2" lengthAdjust="spacingAndGlyphs">r= 0.5182</text>
<text x="118.0" y="510.8" font-size="8.8" text-anchor="start" font-weight="normal" fill="#0a0a0a" stroke="#0a0a0a" stroke-width="0.22" font-family="Liberation Sans, sans-serif" textLength="35.2" lengthAdjust="spacingAndGlyphs">P= 0.0331</text>
<text x="147.7" y="633.3" font-size="9.05" text-anchor="middle" font-weight="normal" fill="#222" stroke="#222" stroke-width="0.22" font-family="Liberation Sans, sans-serif" >% CD4<tspan dy="-3" dx="0" font-size="6">+</tspan><tspan dy="3">&#8203;</tspan>IL-21<tspan dy="-3" dx="0" font-size="6">+</tspan><tspan dy="3">&#8203;</tspan>IL-17<tspan dy="-3" dx="0" font-size="6">-</tspan><tspan dy="3">&#8203;</tspan> RB</text>
<text transform="translate(40.3,552.8) rotate(-90)" font-size="9" text-anchor="middle" textLength="83" lengthAdjust="spacingAndGlyphs" fill="#333" stroke="#333" stroke-width="0.2" font-family="Liberation Sans, sans-serif">% CD4<tspan dy="-3" dx="0" font-size="6">+</tspan><tspan dy="3">&#8203;</tspan>IL-21<tspan dy="-3" dx="0" font-size="6">+</tspan><tspan dy="3">&#8203;</tspan>IL-17<tspan dy="-3" dx="0" font-size="6">-</tspan><tspan dy="3">&#8203;</tspan> PB</text>
<line x1="324.9" y1="496.5" x2="324.9" y2="607.0" stroke="#000" stroke-width="1.7" />
<line x1="324.1" y1="606.2" x2="489.4" y2="606.2" stroke="#000" stroke-width="1.6" />
<line x1="320.9" y1="606.2" x2="324.9" y2="606.2" stroke="#000" stroke-width="1.5" />
<text x="320.7" y="609.1" font-size="8" text-anchor="end" font-weight="bold" fill="#111" stroke="#111" stroke-width="0.22" font-family="Liberation Sans, sans-serif" >0</text>
<line x1="320.9" y1="579.0" x2="324.9" y2="579.0" stroke="#000" stroke-width="1.5" />
<text x="320.7" y="581.9" font-size="8" text-anchor="end" font-weight="bold" fill="#111" stroke="#111" stroke-width="0.22" font-family="Liberation Sans, sans-serif" >2</text>
<line x1="320.9" y1="551.8" x2="324.9" y2="551.8" stroke="#000" stroke-width="1.5" />
<text x="320.7" y="554.6" font-size="8" text-anchor="end" font-weight="bold" fill="#111" stroke="#111" stroke-width="0.22" font-family="Liberation Sans, sans-serif" >4</text>
<line x1="320.9" y1="524.5" x2="324.9" y2="524.5" stroke="#000" stroke-width="1.5" />
<text x="320.7" y="527.4" font-size="8" text-anchor="end" font-weight="bold" fill="#111" stroke="#111" stroke-width="0.22" font-family="Liberation Sans, sans-serif" >6</text>
<line x1="320.9" y1="497.3" x2="324.9" y2="497.3" stroke="#000" stroke-width="1.5" />
<text x="320.7" y="500.2" font-size="8" text-anchor="end" font-weight="bold" fill="#111" stroke="#111" stroke-width="0.22" font-family="Liberation Sans, sans-serif" >8</text>
<line x1="324.9" y1="606.2" x2="324.9" y2="610.7" stroke="#000" stroke-width="1.5" />
<text x="324.9" y="618.2" font-size="8" text-anchor="middle" font-weight="bold" fill="#111" stroke="#111" stroke-width="0.22" font-family="Liberation Sans, sans-serif" >0</text>
<line x1="357.6" y1="606.2" x2="357.6" y2="610.7" stroke="#000" stroke-width="1.5" />
<text x="357.6" y="618.2" font-size="8" text-anchor="middle" font-weight="bold" fill="#111" stroke="#111" stroke-width="0.22" font-family="Liberation Sans, sans-serif" >1</text>
<line x1="390.4" y1="606.2" x2="390.4" y2="610.7" stroke="#000" stroke-width="1.5" />
<text x="390.4" y="618.2" font-size="8" text-anchor="middle" font-weight="bold" fill="#111" stroke="#111" stroke-width="0.22" font-family="Liberation Sans, sans-serif" >2</text>
<line x1="423.1" y1="606.2" x2="423.1" y2="610.7" stroke="#000" stroke-width="1.5" />
<text x="423.1" y="618.2" font-size="8" text-anchor="middle" font-weight="bold" fill="#111" stroke="#111" stroke-width="0.22" font-family="Liberation Sans, sans-serif" >3</text>
<line x1="455.9" y1="606.2" x2="455.9" y2="610.7" stroke="#000" stroke-width="1.5" />
<text x="455.9" y="618.2" font-size="8" text-anchor="middle" font-weight="bold" fill="#111" stroke="#111" stroke-width="0.22" font-family="Liberation Sans, sans-serif" >4</text>
<line x1="488.6" y1="606.2" x2="488.6" y2="610.7" stroke="#000" stroke-width="1.5" />
<text x="488.6" y="618.2" font-size="8" text-anchor="middle" font-weight="bold" fill="#111" stroke="#111" stroke-width="0.22" font-family="Liberation Sans, sans-serif" >5</text>
<circle cx="469.2" cy="517.3" r="2.27" fill="#000"/>
<circle cx="449.8" cy="525.1" r="2.27" fill="#000"/>
<circle cx="360.9" cy="536.1" r="2.27" fill="#000"/>
<circle cx="460.0" cy="546.4" r="2.27" fill="#000"/>
<circle cx="379.6" cy="549.1" r="2.27" fill="#000"/>
<circle cx="410.6" cy="553.3" r="2.27" fill="#000"/>
<circle cx="406.9" cy="560.2" r="2.27" fill="#000"/>
<circle cx="348.2" cy="580.3" r="2.27" fill="#000"/>
<circle cx="376.0" cy="582.0" r="2.27" fill="#000"/>
<circle cx="398.6" cy="579.6" r="2.27" fill="#000"/>
<circle cx="402.3" cy="577.3" r="2.27" fill="#000"/>
<circle cx="424.4" cy="575.9" r="2.27" fill="#000"/>
<circle cx="445.2" cy="576.8" r="2.27" fill="#000"/>
<circle cx="405.5" cy="585.1" r="2.27" fill="#000"/>
<circle cx="369.8" cy="591.8" r="2.27" fill="#000"/>
<circle cx="384.9" cy="594.2" r="2.27" fill="#000"/>
<circle cx="405.5" cy="594.4" r="2.27" fill="#000"/>
<line x1="348.4" y1="585.1" x2="467.8" y2="545.0" stroke="#000" stroke-width="1.5" />
<text x="377.4" y="501.5" font-size="8.8" text-anchor="start" font-weight="normal" fill="#0a0a0a" stroke="#0a0a0a" stroke-width="0.22" font-family="Liberation Sans, sans-serif" textLength="33.2" lengthAdjust="spacingAndGlyphs">r= 0.4939</text>
<text x="377.4" y="510.7" font-size="8.8" text-anchor="start" font-weight="normal" fill="#0a0a0a" stroke="#0a0a0a" stroke-width="0.22" font-family="Liberation Sans, sans-serif" textLength="35.2" lengthAdjust="spacingAndGlyphs">P= 0.0439</text>
<text x="407.4" y="633.3" font-size="9.05" text-anchor="middle" font-weight="normal" fill="#222" stroke="#222" stroke-width="0.22" font-family="Liberation Sans, sans-serif" >% CD4<tspan dy="-3" dx="0" font-size="6">+</tspan><tspan dy="3">&#8203;</tspan>IL-21<tspan dy="-3" dx="0" font-size="6">+</tspan><tspan dy="3">&#8203;</tspan>IL-17<tspan dy="-3" dx="0" font-size="6">+</tspan><tspan dy="3">&#8203;</tspan> RB</text>
<text transform="translate(304.8,552.8) rotate(-90)" font-size="9" text-anchor="middle" textLength="83" lengthAdjust="spacingAndGlyphs" fill="#333" stroke="#333" stroke-width="0.2" font-family="Liberation Sans, sans-serif">% CD4<tspan dy="-3" dx="0" font-size="6">+</tspan><tspan dy="3">&#8203;</tspan>IL-21<tspan dy="-3" dx="0" font-size="6">+</tspan><tspan dy="3">&#8203;</tspan>IL-17<tspan dy="-3" dx="0" font-size="6">+</tspan><tspan dy="3">&#8203;</tspan> PB</text>
</svg></body></html>
